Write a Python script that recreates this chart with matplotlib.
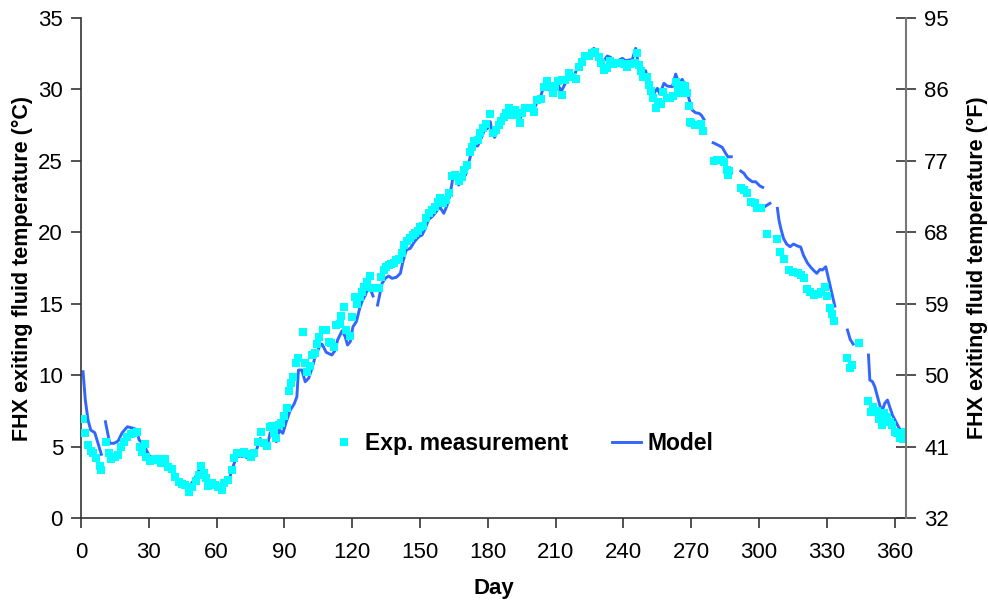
import numpy as np
import matplotlib
matplotlib.use("Agg")
import matplotlib.pyplot as plt

nan = np.nan

# model curve (day, degC); nan = gap in the curve
model_day = [0.9, 1.9, 3.1, 4.3, 6.1, 7.5, 9.0, 10.0,
             10.8, 12.7, 14.6, 16.4, 18.2, 20.5, 22.3, 24.5, 25.7, 27.5, 28.9, 30.4,
             32.6, 34.8, 37.1, 39.3, 41.5, 43.7, 45.9, 47.8, 50.0, 52.6, 54.2, 55.7,
             57.9, 60.1, 61.9, 63.3, 65.7, 67.2, 68.9, 70.4, 72.6, 74.8, 76.6, 78.1,
             79.3, 80.5, 82.2, 83.7, 84.9, 86.4, 87.8, 89.3, 90.8, 92.6, 94.3, 95.5,
             96.2, 97.7, 99.2, 100.7, 102.2, 103.6, 105.5, 106.6, 108.5, 111.0, 112.5,
             113.5, 115.5, 116.9, 117.9, 119.1, 120.3, 121.8, 123.3, 124.3, 125.8,
             127.2, 128.3, 129.2, 130.0,
             131.2, 133.2, 134.6, 136.1, 137.6, 139.5, 141.3, 142.4, 143.9, 145.7,
             147.5, 149.4, 150.9, 152.3, 153.8, 155.3, 156.8, 158.7, 160.5, 162.0,
             163.4, 164.6, 165.6, 167.1, 168.6, 170.1, 171.1, 172.6, 174.0, 175.5,
             177.0, 178.5, 179.9, 181.1, 181.9, 183.0, 184.8, 186.3, 187.8, 189.2,
             190.7, 192.2, 194.1, 195.6, 197.4, 198.8, 200.6, 201.8, 203.3, 204.7,
             206.2, 207.7, 209.2, 210.9, 212.4, 213.9, 215.1, 216.6, 218.0, 219.5,
             221.0, 222.5, 224.0, 225.4, 226.9, 228.4, 229.5, 231.0, 232.8, 234.3,
             236.1, 237.5, 239.5, 240.9, 242.4, 243.9, 245.4, 246.4, 247.9, 249.8,
             250.8, 252.0, 253.5, 255.0, 256.1, 257.9, 259.4, 261.6, 263.1, 264.5,
             266.0, 267.5, 268.9, 270.4, 271.9, 273.4, 274.4, 275.6, 277.0,
             279.7, 281.8, 283.7, 285.2, 286.2, 287.7, 289.0,
             291.9, 293.3, 294.5, 295.5, 297.0, 298.5, 299.5, 300.4, 301.6, 302.3,
             302.9, 304.8, 306.0,
             308.1, 308.8, 309.6, 310.8, 312.2, 313.7, 315.2, 317.0, 318.4, 319.6,
             321.4, 322.9, 324.3, 325.5, 327.0, 328.0, 329.5, 330.5, 331.7, 333.5, 336.0,
             339.1, 340.3, 341.6, 345.0,
             348.4, 349.0, 350.2, 351.2, 352.4, 353.6, 354.6, 355.6, 356.8, 358.0,
             359.0, 360.5, 362.0, 363.5]
model_temp = [10.24, 8.26, 6.86, 6.16, 5.97, 5.23, 4.46, nan,
              6.74, 5.23, 5.23, 5.39, 5.97, 6.39, 6.32, 6.21, 5.46, 5.23, 4.76, 4.29,
              4.25, 4.29, 4.06, 3.64, 3.01, 2.61, 2.54, 2.19, 2.66, 3.48, 3.24, 2.54,
              2.43, 2.24, 2.19, 2.47, 2.78, 3.59, 4.29, 4.34, 4.29, 4.11, 4.29, 4.99,
              5.58, 5.23, 4.88, 5.97, 5.93, 5.34, 6.16, 5.93, 6.74, 7.56, 7.98, 8.49,
              10.36, 10.36, 9.54, 9.78, 10.48, 11.29, 11.99, 12.18, 11.6, 11.41, 11.76,
              12.46, 13.11, 12.69, 12.11, 12.34, 13.39, 13.74, 14.68, 15.14, 15.61,
              16.24, 15.91, 15.54, nan,
              14.91, 16.43, 16.78, 16.94, 16.78, 16.85, 17.13, 17.94, 18.76, 18.88,
              19.34, 19.69, 19.81, 20.28, 20.91, 21.09, 21.37, 21.79, 21.33, 21.91,
              22.73, 23.89, 23.78, 23.31, 23.89, 24.01, 24.59, 25.53, 26.11, 26.04,
              26.58, 27.16, 27.28, 27.74, 26.93, 26.65, 27.28, 27.74, 28.21, 28.37,
              28.28, 28.21, 27.91, 28.44, 28.68, 28.61, 28.68, 29.14, 29.49, 30.19,
              30.38, 29.84, 30.19, 30.42, 29.84, 30.31, 30.89, 31.17, 30.89, 31.48,
              31.83, 32.18, 32.34, 32.57, 32.88, 32.64, 32.01, 31.94, 32.34, 32.25,
              31.90, 32.01, 32.18, 32.01, 32.06, 32.10, 32.88, 31.94, 31.36, 31.31,
              30.66, 30.31, 29.73, 30.08, 29.68, 30.43, 30.24, 30.19, 31.08, 30.43,
              30.71, 30.19, 29.40, 28.56, 28.37, 28.33, 28.21, 27.91, nan,
              26.27, 26.11, 25.95, 25.53, 25.29, 25.29, nan,
              24.29, 24.13, 23.85, 23.71, 23.54, 23.54, 23.38, 23.24, 23.15, nan,
              21.84, 22.03, nan,
              21.68, 20.86, 20.28, 19.58, 19.18, 18.99, 19.18, 19.04, 18.97, 18.41,
              17.85, 17.55, 17.31, 17.13, 17.41, 17.36, 17.59, 16.89, 16.08, 14.84, nan,
              13.16, 12.51, 12.18, nan,
              11.41, 9.66, 9.54, 9.19, 8.49, 7.79, 7.56, 8.03, 8.26, 7.68,
              7.21, 6.74, 6.28, 5.97]

# measured points (day, degC)
exp_day = [0.9, 1.9, 3.1, 4.3, 5.3, 6.8, 8.3, 9.0, 11.2, 12.3, 13.4, 14.9, 16.4,
           17.6, 19.0, 20.5, 22.0, 23.5, 24.9, 26.0, 27.0, 28.2, 28.9, 30.4, 31.9,
           33.8, 35.6, 37.1, 38.5, 40.3, 41.8, 43.3, 44.7, 46.2, 47.8, 49.3, 50.8,
           52.1, 53.3, 54.5, 55.5, 56.4, 57.9, 59.3, 60.8, 62.3, 63.3, 65.2, 66.7,
           67.8, 69.2, 70.4, 71.9, 73.4, 75.2, 76.6, 78.1, 79.6, 81.0, 82.2, 83.4,
           84.4, 85.5, 86.4, 87.4, 88.6, 89.9, 91.1, 91.8, 92.9, 94.0, 95.1, 96.2,
           98.2, 99.2, 100.2, 101.4, 102.4, 103.6, 104.4, 105.5, 107.0, 108.5, 109.5,
           110.6, 112.0, 112.9, 114.4, 115.0, 116.2, 117.4, 118.8, 119.9, 121.3,
           122.1, 123.3, 124.3, 125.3, 126.5, 127.7, 128.7, 130.2, 131.7, 132.7,
           133.9, 135.1, 136.1, 137.2, 138.3, 139.5, 140.5, 142.0, 143.0, 144.2,
           145.7, 146.9, 147.9, 148.9, 150.1, 151.3, 152.8, 153.8, 155.3, 156.8,
           157.8, 159.0, 160.2, 161.6, 162.7, 164.2, 165.6, 167.1, 168.6, 169.6,
           170.8, 172.0, 173.0, 174.0, 175.5, 176.7, 177.9, 179.4, 181.1, 182.3,
           183.4, 184.8, 185.9, 187.0, 188.2, 189.2, 190.3, 191.8, 193.0, 194.1,
           195.2, 196.6, 198.1, 199.6, 200.6, 201.8, 203.3, 204.7, 206.2, 207.7,
           208.9, 209.9, 210.9, 212.6, 212.9, 214.3, 215.8, 217.3, 218.8, 220.2,
           221.7, 223.2, 224.7, 226.2, 227.6, 229.1, 230.1, 231.3, 232.8, 234.0,
           235.5, 236.9, 238.4, 240.2, 241.4, 243.1, 244.9, 245.8, 246.8, 247.6,
           248.7, 250.2, 251.2, 252.3, 253.2, 254.2, 255.2, 256.4, 257.6, 259.1,
           260.5, 262.0, 263.1, 264.1, 265.0, 266.0, 267.1, 267.9, 268.9, 269.4,
           270.0, 271.5, 272.9, 274.1, 275.3, 280.0, 281.5, 283.3, 284.5, 285.7,
           286.2, 286.7, 292.1, 293.3, 294.8, 296.6, 298.1, 299.2, 300.7, 303.7,
           308.1, 309.3, 311.0, 313.2, 315.2, 317.0, 318.4, 319.9, 321.1, 322.6,
           324.3, 326.1, 327.6, 329.1, 330.2, 331.4, 332.2, 333.2, 339.1, 340.3,
           340.9, 344.3, 348.2, 349.4, 350.6, 352.1, 353.1, 354.2, 355.3, 356.5,
           358.0, 359.0, 360.1, 361.2, 362.4, 363.5, 364.5]
exp_temp = [6.93, 5.97, 5.11, 4.71, 4.53, 4.22, 3.64, 3.36, 5.34, 4.57, 4.13, 4.29, 4.41,
            4.95, 5.34, 5.69, 5.88, 5.97, 6.02, 4.95, 4.64, 5.18, 4.29, 4.01, 4.06,
            4.11, 3.87, 4.11, 3.59, 3.41, 2.89, 2.54, 2.38, 2.31, 1.84, 2.19, 2.61,
            3.01, 3.64, 3.13, 2.78, 2.24, 2.47, 2.31, 2.19, 1.96, 2.43, 2.66, 3.36,
            4.18, 4.53, 4.53, 4.64, 4.48, 4.29, 4.53, 5.34, 6.04, 5.23, 5.04, 6.39,
            6.44, 5.93, 5.58, 6.51, 6.63, 7.14, 7.68, 8.91, 9.47, 9.89, 10.87, 11.18,
            13.04, 10.87, 10.24, 10.64, 11.41, 11.57, 12.16, 12.69, 13.16, 13.16, 12.34,
            12.23, 11.95, 13.51, 13.58, 14.14, 14.79, 13.16, 12.74, 14.09, 15.45,
            14.98, 15.49, 15.84, 16.19, 16.54, 16.94, 16.08, 16.08, 16.08, 16.85,
            17.36, 17.59, 17.71, 17.76, 17.83, 18.06, 18.11, 18.57, 19.11, 19.41,
            19.58, 19.81, 19.93, 20.11, 20.35, 20.44, 20.98, 21.37, 21.56, 21.79,
            22.14, 22.38, 22.03, 22.26, 22.73, 23.94, 24.01, 23.61, 23.85, 24.36,
            24.71, 25.64, 25.99, 26.41, 26.46, 26.93, 27.28, 27.58, 28.28, 26.97,
            27.16, 27.51, 27.81, 28.09, 28.37, 28.68, 28.21, 28.56, 28.21, 27.63,
            28.33, 28.68, 28.72, 28.68, 28.44, 29.26, 29.31, 30.19, 30.61, 30.24,
            29.77, 30.19, 30.61, 29.61, 30.66, 30.66, 31.13, 30.89, 30.71, 31.59,
            31.94, 32.34, 32.34, 32.57, 32.64, 32.29, 31.87, 31.36, 31.48, 32.01,
            31.78, 31.83, 31.87, 31.78, 31.59, 31.78, 31.83, 32.53, 31.71, 31.31,
            30.89, 30.85, 30.31, 29.91, 29.38, 28.68, 29.14, 28.98, 29.84, 29.38,
            29.38, 29.54, 30.54, 29.96, 29.73, 30.31, 30.24, 29.73, 28.84, 27.74,
            27.67, 27.51, 27.51, 27.58, 27.11, 25.01, 25.06, 25.06, 24.94, 24.36,
            24.01, 24.31, 23.08, 22.96, 22.73, 22.14, 22.03, 21.68, 21.68, 19.88,
            19.51, 18.64, 18.11, 17.36, 17.24, 17.17, 17.01, 16.78, 16.01, 15.84,
            15.61, 15.68, 15.84, 16.19, 15.54, 14.68, 14.28, 13.81, 11.18, 10.48,
            10.71, 12.23, 8.21, 7.44, 7.79, 7.51, 6.91, 6.51, 7.33, 7.09,
            6.74, 6.51, 6.04, 5.97, 5.58, 5.51, 6.04]

x_ticks = list(range(0, 361, 30))
c_ticks = list(range(0, 36, 5))
f_ticks = list(range(32, 96, 9))

plt.rcParams['font.family'] = ['Liberation Sans', 'DejaVu Sans']

fig = plt.figure(figsize=(9.88, 6.02), dpi=100)
ax = fig.add_axes([0.082, 0.1395, 0.835, 0.8305])

ax.plot(model_day, model_temp, color='#3366FF', lw=2.1, label='Model', zorder=2)
ax.plot(exp_day, exp_temp, ls='none', marker='s', ms=5.5, mew=0,
        color='#00FFFF', label='Exp. measurement', zorder=3)

ax.set_xlim(0, 365)
ax.set_ylim(0, 35)
ax.set_xticks(x_ticks)
ax.set_yticks(c_ticks)
ax.spines['top'].set_visible(False)
ax.spines['right'].set_visible(False)
for s in ['left', 'bottom']:
    ax.spines[s].set_color('#333333')
    ax.spines[s].set_linewidth(1.2)
ax.tick_params(axis='both', labelsize=16, length=7, width=1.2, color='#333333')
ax.tick_params(axis='x', pad=10)
ax.tick_params(axis='y', pad=6)
ax.set_xlabel('Day', fontsize=16, fontweight='bold', labelpad=11)
ax.set_ylabel('FHX exiting fluid temperature (°C)', fontsize=15.5,
              fontweight='bold', labelpad=4)

ax2 = ax.twinx()
ax2.set_ylim(32, 95)
ax2.set_yticks(f_ticks)
ax2.spines['top'].set_visible(False)
ax2.spines['left'].set_visible(False)
ax2.spines['bottom'].set_visible(False)
ax2.spines['right'].set_color('#777777')
ax2.spines['right'].set_linewidth(1.5)
ax2.tick_params(axis='y', labelsize=16, length=14, width=1.2, direction='inout',
                color='#333333', pad=6)
ax2.set_ylabel('FHX exiting fluid temperature (°F)', fontsize=15.5,
               fontweight='bold', rotation=90, labelpad=13)

h, l = ax.get_legend_handles_labels()
ax.legend(h[::-1], l[::-1], loc='center', bbox_to_anchor=(0.534, 0.15), ncol=2,
          frameon=False, numpoints=1, handlelength=1.25, handletextpad=0.3,
          columnspacing=1.9, prop={'size': 16.5, 'weight': 'bold'})

fig.savefig('out.png', dpi=100)
